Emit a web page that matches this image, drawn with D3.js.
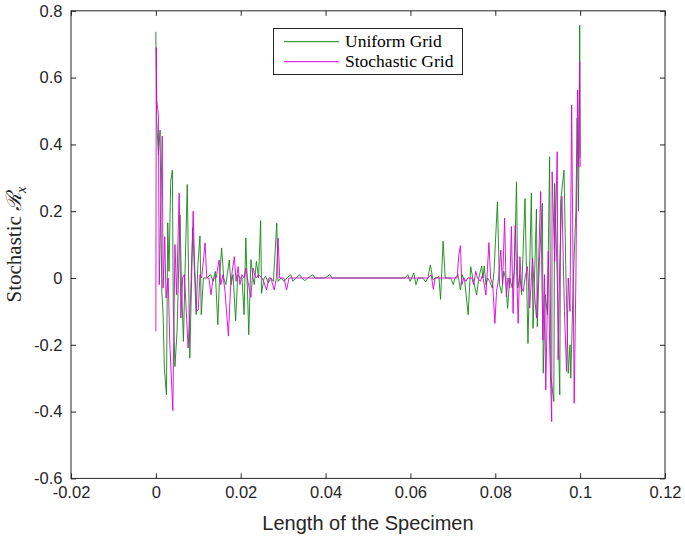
<!DOCTYPE html>
<html>
<head>
<meta charset="utf-8">
<script src="https://cdn.jsdelivr.net/npm/d3@7"></script>
<style>
  body { margin: 0; background: #fff; }
</style>
</head>
<body>
<div id="chart"></div>
<script>
// Uniform grid result (green)
const uniformX = [0.0000, 0.0002, 0.0006, 0.0010, 0.0014, 0.0017, 0.0020, 0.0025, 0.0028, 0.0031,
  0.0035, 0.0039, 0.0041, 0.0045, 0.0050, 0.0057, 0.0060, 0.0065, 0.0069, 0.0074,
  0.0080, 0.0087, 0.0091, 0.0095, 0.0099, 0.0104, 0.0107, 0.0112, 0.0120, 0.0129,
  0.0135, 0.0140, 0.0146, 0.0150, 0.0155, 0.0160, 0.0165, 0.0173, 0.0177, 0.0182,
  0.0188, 0.0193, 0.0198, 0.0203, 0.0208, 0.0212, 0.0215, 0.0219, 0.0224, 0.0229,
  0.0232, 0.0237, 0.0242, 0.0247, 0.0249, 0.0255, 0.0259, 0.0265, 0.0271, 0.0277,
  0.0285, 0.0288, 0.0295, 0.0302, 0.0309, 0.0318, 0.0323, 0.0330, 0.0339, 0.0344,
  0.0351, 0.0358, 0.0370, 0.0375, 0.0398, 0.0410, 0.0415, 0.0528, 0.0587, 0.0594,
  0.0599, 0.0603, 0.0608, 0.0613, 0.0618, 0.0629, 0.0636, 0.0641, 0.0647, 0.0653,
  0.0658, 0.0662, 0.0667, 0.0671, 0.0677, 0.0682, 0.0688, 0.0695, 0.0701, 0.0705,
  0.0712, 0.0718, 0.0722, 0.0728, 0.0736, 0.0742, 0.0747, 0.0756, 0.0761, 0.0768,
  0.0771, 0.0774, 0.0778, 0.0782, 0.0787, 0.0793, 0.0797, 0.0805, 0.0810, 0.0815,
  0.0820, 0.0824, 0.0829, 0.0834, 0.0840, 0.0845, 0.0850, 0.0853, 0.0858, 0.0862,
  0.0870, 0.0877, 0.0885, 0.0889, 0.0897, 0.0899, 0.0904, 0.0911, 0.0913, 0.0918,
  0.0923, 0.0928, 0.0931, 0.0938, 0.0940, 0.0946, 0.0952, 0.0954, 0.0962, 0.0966,
  0.0972, 0.0976, 0.0978, 0.0984, 0.0990, 0.0993, 0.0996, 0.0998, 0.0999, 0.1000];
const uniformY = [0.737, 0.468, 0.368, 0.443, -0.04, -0.105, -0.27, -0.35, 0.165, 0.02,
  0.29, 0.323, -0.08, -0.265, -0.16, 0.189, 0.0, -0.19, 0.03, 0.28,
  -0.24, 0.15, 0.02, -0.11, 0.04, 0.126, -0.11, 0.0, 0.0, 0.01,
  -0.01, 0.02, -0.14, 0.0, 0.09, 0.0, -0.02, 0.054, -0.02, 0.01,
  -0.128, 0.01, 0.0, 0.0, -0.11, 0.12, 0.0, -0.17, 0.055, 0.0,
  -0.02, 0.05, 0.0, 0.172, -0.046, 0.0, 0.005, -0.015, 0.0, -0.01,
  0.164, -0.01, 0.0, -0.01, 0.0, 0.01, -0.01, 0.0, 0.01, 0.0,
  -0.008, 0.0, 0.01, 0.0, 0.0, 0.01, 0.0, 0.0, 0.0, 0.01,
  -0.01, 0.0, 0.015, -0.02, 0.0, 0.0, -0.012, 0.0, 0.039, -0.005,
  0.0, 0.0, 0.005, -0.064, 0.11, 0.0, 0.0, 0.0, -0.02, 0.0,
  0.01, -0.036, 0.01, -0.01, -0.11, 0.034, 0.0, -0.051, 0.0, 0.036,
  0.0, 0.036, -0.02, 0.0, -0.01, -0.03, 0.02, 0.228, -0.02, -0.046,
  0.02, 0.0, -0.091, 0.0, -0.03, 0.02, 0.288, -0.03, 0.01, -0.05,
  0.238, -0.196, 0.254, -0.151, 0.206, -0.146, 0.05, 0.224, -0.285, -0.05,
  -0.11, 0.363, -0.295, -0.37, 0.283, 0.0, -0.35, 0.23, 0.323, 0.04,
  -0.285, -0.2, -0.3, 0.0, 0.2, 0.479, 0.2, 0.5, 0.757, 0.36];

// Stochastic grid result (magenta)
const stochX = [0.0000, 0.0001, 0.0002, 0.0006, 0.0008, 0.0015, 0.0017, 0.0021, 0.0024, 0.0029,
  0.0033, 0.0040, 0.0045, 0.0049, 0.0055, 0.0059, 0.0063, 0.0067, 0.0071, 0.0076,
  0.0082, 0.0088, 0.0091, 0.0096, 0.0100, 0.0104, 0.0108, 0.0116, 0.0120, 0.0125,
  0.0130, 0.0135, 0.0142, 0.0149, 0.0153, 0.0158, 0.0163, 0.0171, 0.0176, 0.0180,
  0.0185, 0.0189, 0.0194, 0.0198, 0.0203, 0.0208, 0.0212, 0.0217, 0.0224, 0.0229,
  0.0233, 0.0237, 0.0242, 0.0250, 0.0254, 0.0261, 0.0266, 0.0271, 0.0279, 0.0284,
  0.0288, 0.0292, 0.0302, 0.0308, 0.0314, 0.0641, 0.0649, 0.0654, 0.0658, 0.0710,
  0.0714, 0.0718, 0.0721, 0.0726, 0.0731, 0.0735, 0.0745, 0.0749, 0.0754, 0.0758,
  0.0765, 0.0770, 0.0778, 0.0785, 0.0789, 0.0794, 0.0799, 0.0803, 0.0808, 0.0813,
  0.0817, 0.0822, 0.0826, 0.0830, 0.0834, 0.0838, 0.0842, 0.0847, 0.0854, 0.0858,
  0.0862, 0.0866, 0.0870, 0.0876, 0.0881, 0.0888, 0.0892, 0.0897, 0.0901, 0.0907,
  0.0912, 0.0916, 0.0919, 0.0925, 0.0928, 0.0933, 0.0934, 0.0940, 0.0946, 0.0948,
  0.0952, 0.0957, 0.0963, 0.0968, 0.0972, 0.0976, 0.0980, 0.0986, 0.0990, 0.0994,
  0.0996, 0.0998, 0.0999, 0.1000];
const stochY = [-0.16, 0.69, 0.533, 0.49, -0.02, 0.425, -0.03, 0.124, -0.06, 0.0,
  -0.2, -0.397, 0.1, -0.05, 0.254, -0.12, 0.0, 0.01, -0.08, -0.21,
  -0.05, 0.2, 0.05, -0.1, -0.096, 0.01, 0.0, 0.105, 0.0, 0.0,
  -0.05, 0.0, 0.0, 0.054, -0.02, 0.01, -0.04, -0.174, -0.03, 0.02,
  0.064, -0.01, 0.034, -0.02, 0.01, 0.0, 0.03, -0.01, -0.058, 0.03,
  0.01, 0.0, 0.01, 0.0, -0.01, -0.036, 0.0, 0.0, -0.036, 0.0,
  0.12, 0.0, 0.0, -0.036, 0.0, 0.0, 0.01, -0.034, 0.0, 0.0,
  0.07, 0.097, -0.02, 0.0, -0.01, 0.0, 0.0, -0.02, 0.02, 0.0,
  -0.01, 0.01, -0.051, 0.106, 0.0, -0.02, -0.136, -0.04, 0.0, 0.084,
  -0.02, 0.179, -0.056, 0.0, -0.03, 0.154, -0.106, 0.158, -0.136, 0.064,
  -0.03, -0.04, 0.0, 0.034, -0.09, 0.06, -0.04, -0.12, 0.0, 0.259,
  -0.186, 0.01, -0.335, 0.08, -0.2, -0.43, 0.318, 0.05, 0.378, -0.245,
  0.05, 0.245, -0.1, -0.28, 0.0, -0.1, 0.518, -0.375, 0.0, 0.563,
  0.333, 0.55, 0.648, 0.333];

const xTicks = [-0.02, 0, 0.02, 0.04, 0.06, 0.08, 0.1, 0.12];
const xTickLabels = ["-0.02", "0", "0.02", "0.04", "0.06", "0.08", "0.1", "0.12"];
const yTicks = [-0.6, -0.4, -0.2, 0, 0.2, 0.4, 0.6, 0.8];
const yTickLabels = ["-0.6", "-0.4", "-0.2", "0", "0.2", "0.4", "0.6", "0.8"];
const seriesNames = ["Uniform Grid", "Stochastic Grid"];
const seriesColors = ["#138a13", "#dd00dd"];

const W = 685, H = 542;
const margin = {top: 10.8, right: 20, bottom: 63.6, left: 71};
const width = W - margin.left - margin.right;
const height = H - margin.top - margin.bottom;
const axisColor = "#262626";

const svg = d3.select("#chart")
  .append("svg")
  .attr("width", W)
  .attr("height", H)
  .style("font-family", "'Liberation Sans', Arial, sans-serif");

const g = svg.append("g")
  .attr("transform", `translate(${margin.left},${margin.top})`);

const x = d3.scaleLinear().domain([-0.02, 0.12]).range([0, width]);
const y = d3.scaleLinear().domain([-0.6, 0.8]).range([height, 0]);

// axes (ticks point inward, MATLAB style)
g.append("g")
  .attr("transform", `translate(0,${height})`)
  .call(d3.axisBottom(x).tickValues(xTicks)
    .tickFormat((d, i) => xTickLabels[i])
    .tickSizeInner(-5).tickSizeOuter(0).tickPadding(8));

g.append("g")
  .call(d3.axisLeft(y).tickValues(yTicks)
    .tickFormat((d, i) => yTickLabels[i])
    .tickSizeInner(-5).tickSizeOuter(0).tickPadding(8.5));

g.append("g")
  .call(d3.axisTop(x).tickValues(xTicks).tickFormat("")
    .tickSizeInner(-5).tickSizeOuter(0));

g.append("g")
  .attr("transform", `translate(${width},0)`)
  .call(d3.axisRight(y).tickValues(yTicks).tickFormat("")
    .tickSizeInner(-5).tickSizeOuter(0));

g.selectAll(".domain").remove();
g.selectAll(".tick line").attr("stroke", axisColor);
g.selectAll(".tick text")
  .attr("fill", axisColor)
  .style("font-size", "16.5px")
  .style("font-family", "'Liberation Sans', Arial, sans-serif");

// data lines
const uniform = uniformX.map((d, i) => ({x: d, y: uniformY[i]}));
const stoch = stochX.map((d, i) => ({x: d, y: stochY[i]}));

const line = d3.line()
  .x(d => x(d.x))
  .y(d => y(d.y));

[uniform, stoch].forEach((data, k) => {
  g.append("path")
    .datum(data)
    .attr("fill", "none")
    .attr("stroke", seriesColors[k])
    .attr("stroke-width", 1)
    .attr("stroke-opacity", 0.9)
    .attr("stroke-linejoin", "round")
    .attr("d", line);
});

// box
g.append("rect")
  .attr("x", 0)
  .attr("y", 0)
  .attr("width", width)
  .attr("height", height)
  .attr("fill", "none")
  .attr("stroke", axisColor)
  .attr("stroke-width", 1);

// x label
svg.append("text")
  .attr("x", margin.left + width / 2)
  .attr("y", 530)
  .attr("text-anchor", "middle")
  .attr("fill", axisColor)
  .style("font-size", "20px")
  .text("Length of the Specimen");

// y label
const yLab = svg.append("text")
  .attr("transform", `translate(21,${margin.top + height / 2}) rotate(-90)`)
  .attr("text-anchor", "middle")
  .attr("fill", axisColor)
  .style("font-family", "'Liberation Serif', 'DejaVu Serif', serif")
  .style("font-size", "21px");
yLab.append("tspan").text("Stochastic ");
yLab.append("tspan").style("font-style", "italic").text("\u211B");
yLab.append("tspan").attr("dy", 5).style("font-size", "14px").style("font-style", "italic").text("x");

// legend
const legend = svg.append("g").attr("transform", "translate(273.5,28.5)");
legend.append("rect")
  .attr("width", 189)
  .attr("height", 46)
  .attr("fill", "#fff")
  .attr("stroke", axisColor)
  .attr("stroke-width", 1);

seriesNames.forEach((name, i) => {
  const ly = 13.2 + i * 20;
  legend.append("line")
    .attr("x1", 10.5).attr("x2", 65.5)
    .attr("y1", ly).attr("y2", ly)
    .attr("stroke", seriesColors[i])
    .attr("stroke-width", 1);
  legend.append("text")
    .attr("x", 71.5)
    .attr("y", ly + 5.5)
    .attr("fill", "#000")
    .style("font-family", "'Liberation Serif', 'DejaVu Serif', serif")
    .style("font-size", "17.5px")
    .text(name);
});
</script>
</body>
</html>
